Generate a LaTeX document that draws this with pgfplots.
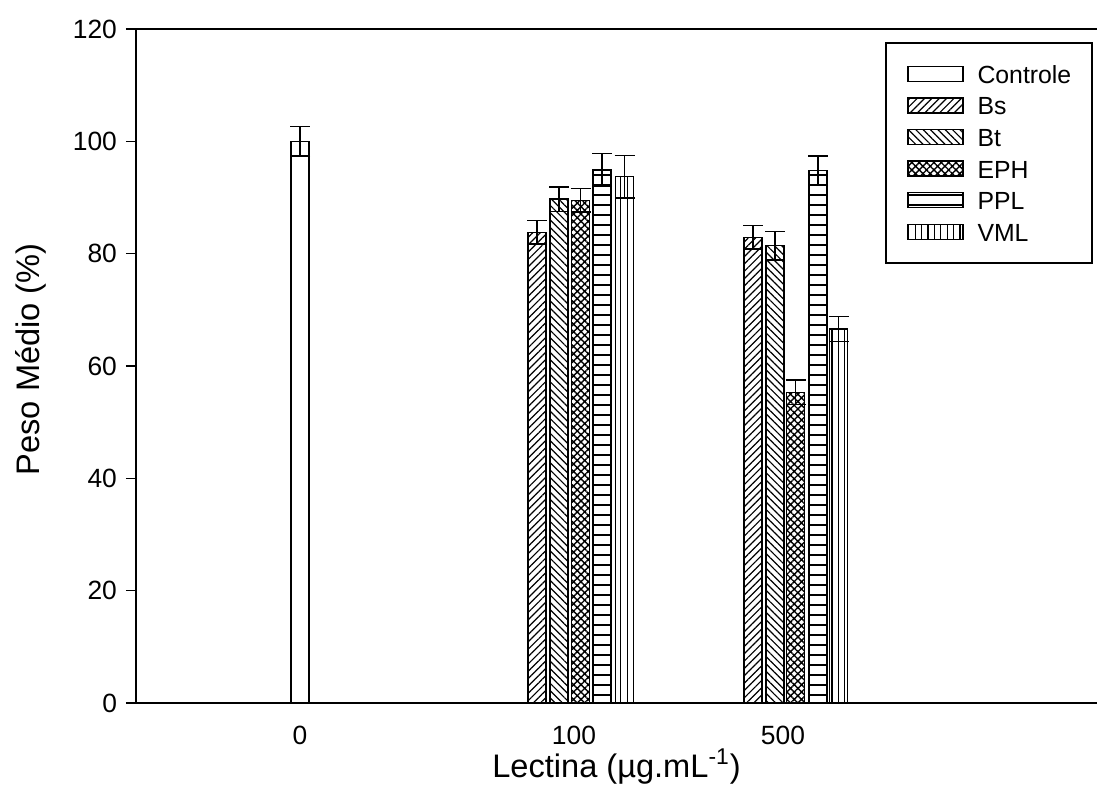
\documentclass[border=0pt]{standalone}
\usepackage{fontspec}
\setmainfont{Liberation Sans}
\usepackage{pgfplots}
\pgfplotsset{compat=1.18}
\usetikzlibrary{patterns.meta}

\begin{document}
\begin{tikzpicture}
\begin{axis}[
    scale only axis,
    width=480.5pt, height=337pt,
    xmin=136, xmax=1097,
    ymin=0, ymax=120,
    axis y line=left, axis x line=box,
    axis line style={-, line width=0.9pt},
    xtick={300,574,783},
    xticklabels={0,100,500},
    xtick style={draw=none},
    xticklabel pos=bottom,
    ytick={0,20,...,120},
    tick align=outside,
    major tick length=5pt,
    ytick style={line width=0.8pt, black},
    /pgf/number format/assume math mode=true,
    tick label style={font=\fontsize{13.2}{16}\selectfont},
    yticklabel style={xshift=-1pt},
    xticklabel style={yshift=-3pt},
    every axis y label/.style={at={(axis description cs:0,0.51)}, xshift=-41.5pt, rotate=90, anchor=south,
        font=\fontsize{16.3}{18}\selectfont},
    every axis x label/.style={at={(axis description cs:0.5,0)}, yshift=-19.5pt, anchor=north,
        font=\fontsize{16.3}{18}\selectfont},
    xlabel={Lectina (µg.mL\textsuperscript{-1})},
    ylabel={Peso Médio (\%)},
    bars/.style={ybar, bar width=18, bar shift=0pt, draw=black, line width=0.7pt},
    error bars/y dir=both,
    error bars/y explicit,
    error bars/error bar style={line width=0.7pt, black, solid},
    error bars/error mark options={rotate=90, mark size=5pt, line width=0.7pt, black},
    legend image code/.code={
        \draw[#1] (0pt,-3.75pt) rectangle (27.5pt,3.75pt);
        \path (34.5pt,0pt);
    },
    legend style={
        at={(0.996,0.981)}, anchor=north east,
        draw=black, line width=0.9pt,
        font=\fontsize{12.4}{14}\selectfont,
        inner xsep=10.5pt, inner ysep=10pt,
        row sep=4.7pt,
        nodes={inner sep=0pt, text height=10.3pt, text depth=0.8pt},
        cells={anchor=west},
    },
]
% Controle
\addplot[bars, fill=white] coordinates {(300,100.0) +- (0,2.6)};
% Bs
\addplot[bars, pattern={Lines[angle=45, distance=2.6pt, line width=0.6pt]}]
    coordinates {(537,83.8) +- (0,2.1) (753,82.9) +- (0,2.1)};
% Bt
\addplot[bars, pattern={Lines[angle=-45, distance=2.6pt, line width=0.6pt]}]
    coordinates {(559,89.7) +- (0,2.2) (775,81.4) +- (0,2.5)};
% EPH
\addplot[bars, pattern={Hatch[angle=45, distance=2.6pt, line width=0.7pt]}]
    coordinates {(580.5,89.5) +- (0,2.1) (795.5,55.3) +- (0,2.2)};
% PPL
\addplot[bars, pattern={Lines[angle=0, distance=5pt, line width=0.6pt]}]
    coordinates {(602,94.9) +- (0,2.9) (818,94.8) +- (0,2.6)};
% VML
\addplot[bars, pattern={Lines[angle=90, distance=3.2pt, line width=0.6pt]}]
    coordinates {(624.5,93.7) +- (0,3.8) (838.5,66.6) +- (0,2.2)};
\legend{Controle, Bs, Bt, EPH, PPL, VML}
\coordinate (bl) at (rel axis cs:0,0);
\coordinate (tr) at (rel axis cs:1,1);
\end{axis}
\pgfresetboundingbox
\path ([xshift=-68pt,yshift=-46pt]bl) rectangle ([yshift=14.5pt]tr);
\end{tikzpicture}
\end{document}
